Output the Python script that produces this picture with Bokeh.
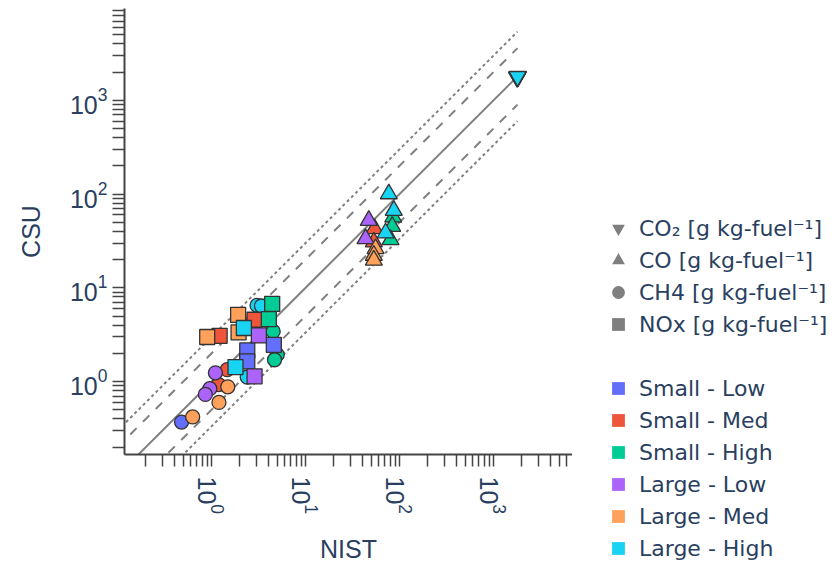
import math
from bokeh.plotting import figure
from bokeh.layouts import row, column
from bokeh.models import FixedTicker, Legend, LegendItem, ColumnDataSource, Range1d
from bokeh.embed import file_html
from bokeh.resources import INLINE

# ---------------- data ----------------
groups = ["Small - Low", "Small - Med", "Small - High", "Large - Low", "Large - Med", "Large - High"]
group_colors = ["#636EFA", "#EF553B", "#00CC96", "#AB63FA", "#FFA15A", "#19D3F3"]

pollutants = ["CO\u2082 [g kg-fuel\u207b\u00b9]", "CO [g kg-fuel\u207b\u00b9]",
              "CH4 [g kg-fuel\u207b\u00b9]", "NOx [g kg-fuel\u207b\u00b9]"]

# CO2 (inverted triangles)
co2_group = ["Small - Low", "Small - Med", "Small - High", "Large - Low", "Large - Med", "Large - High"]
co2_nist = [1790, 1810, 1800, 1780, 1820, 1800]
co2_csu = [1760, 1800, 1780, 1770, 1790, 1790]

# CO (triangles)
co_group = ["Small - Med", "Small - Med", "Small - High", "Small - High", "Small - High",
            "Large - Low", "Large - Low", "Large - Med", "Large - Med", "Large - Med",
            "Large - High", "Large - High", "Large - High"]
co_nist = [54.2, 53.3, 85.7, 83.6, 80.2, 47.1, 43.5, 55.6, 53.3, 53.3, 76.9, 86.9, 71.0]
co_csu = [42.7, 30.8, 56.8, 45.2, 32.6, 52.3, 33.4, 26.1, 22.2, 19.7, 100.5, 66.9, 38.4]

# CH4 (circles)
ch4_group = ["Small - Low", "Small - Med", "Small - Med", "Small - High", "Small - High", "Small - High",
             "Large - Low", "Large - Low", "Large - Low", "Large - Med", "Large - Med", "Large - Med",
             "Large - High", "Large - High", "Large - High"]
ch4_nist = [0.48, 1.47, 1.19, 4.53, 5.0, 4.68, 1.10, 0.96, 0.86, 1.49, 1.20, 0.63, 3.05, 3.40, 2.40]
ch4_csu = [0.37, 1.34, 0.93, 3.43, 1.94, 1.71, 1.24, 0.84, 0.73, 0.88, 0.60, 0.42, 6.5, 6.4, 1.12]

# NOx (squares)
nox_group = ["Small - Low", "Small - Low", "Small - Low", "Small - Med", "Small - Med",
             "Small - High", "Small - High", "Large - Low", "Large - Low",
             "Large - Med", "Large - Med", "Large - Med", "Large - High", "Large - High"]
nox_nist = [4.60, 2.40, 2.40, 1.22, 2.87, 4.42, 4.07, 3.19, 2.87, 0.90, 1.92, 1.94, 2.21, 1.80]
nox_csu = [2.47, 2.15, 1.64, 3.08, 4.57, 6.76, 4.64, 3.11, 1.14, 2.99, 5.16, 3.35, 3.73, 1.43]

# reference lines: CSU = ratio * NIST
ref_nist = [0.1, 1800]
ref_ratios = [1, 2, 0.5, 3, 1 / 3]

x_decades = [1, 10, 100, 1000]
y_decades = [1, 10, 100, 1000]

# ---------------- figure ----------------
TXT = "#2a3f5f"
AX = "#444444"

p = figure(width=572, height=566, x_axis_type="log", y_axis_type="log",
           x_range=(0.1187, 6920), y_range=(0.167, 9527),
           output_backend="svg", toolbar_location=None,
           min_border_left=124, min_border_right=0, min_border_top=8, min_border_bottom=111)
p.xgrid.visible = False
p.ygrid.visible = False
p.outline_line_color = None
p.background_fill_color = "white"

def minor_list(decs, lo, hi):
    out = []
    for d in [0.1] + decs:
        for k in range(2, 10):
            v = k * d
            if lo < v < hi:
                out.append(v)
    return out

p.xaxis.ticker = FixedTicker(ticks=x_decades, minor_ticks=minor_list(x_decades, 0.1187, 6920))
p.yaxis.ticker = FixedTicker(ticks=y_decades, minor_ticks=minor_list(y_decades, 0.167, 9527))

for ax in (p.xaxis[0], p.yaxis[0]):
    ax.axis_line_color = AX
    ax.axis_line_width = 2
    ax.major_tick_in = 0
    ax.major_tick_out = 12
    ax.minor_tick_in = 0
    ax.minor_tick_out = 12
    ax.major_tick_line_color = AX
    ax.minor_tick_line_color = AX
    ax.major_tick_line_width = 1.5
    ax.minor_tick_line_width = 1.5
    ax.major_label_text_color = TXT
    ax.major_label_text_font = "Liberation Sans"
    ax.major_label_text_font_size = "25px"
    ax.axis_label_text_color = TXT
    ax.axis_label_text_font = "Liberation Sans"
    ax.axis_label_text_font_size = "25px"
    ax.axis_label_text_font_style = "normal"

p.xaxis.axis_label = "NIST"
p.yaxis.axis_label = "CSU"
p.xaxis.major_label_orientation = -math.pi / 2
p.xaxis.major_label_standoff = 10
p.yaxis.major_label_standoff = 5
p.xaxis.axis_label_standoff = 18
p.yaxis.axis_label_standoff = 22

# reference lines
ref_styles = ["solid", "9 9", "9 9", "3 3", "3 3"]
for r, dash in zip(ref_ratios, ref_styles):
    p.line(x=ref_nist, y=[r * v for v in ref_nist], line_color="#808080", line_width=2, line_dash=dash)

color_of = dict(zip(groups, group_colors))

series = [
    (co2_nist, co2_csu, co2_group, "inverted_triangle", 17),
    (co_nist, co_csu, co_group, "triangle", 17),
    (ch4_nist, ch4_csu, ch4_group, "circle", 14),
    (nox_nist, nox_csu, nox_group, "square", 15),
]
for xs, ys, gs, mk, sz in series:
    src = ColumnDataSource(dict(x=xs, y=ys, c=[color_of[g] for g in gs]))
    p.scatter("x", "y", source=src, marker=mk, size=sz, fill_color="c",
              line_color="#333333", line_width=1.3)

# ---------------- legend panel ----------------
lf = figure(width=262, height=566, x_range=Range1d(0, 1), y_range=Range1d(0, 1),
            output_backend="svg", toolbar_location=None,
            x_axis_location=None, y_axis_location=None,
            min_border=0, min_border_left=0, min_border_right=0,
            min_border_top=0, min_border_bottom=0)
lf.xgrid.visible = False
lf.ygrid.visible = False
lf.outline_line_color = None

nan = float("nan")
shape_markers = ["inverted_triangle", "triangle", "circle", "square"]
items = []
for lab, mk in zip(pollutants, shape_markers):
    r = lf.scatter(x=[nan], y=[nan], marker=mk, size=14, fill_color="#7f7f7f", line_color=None)
    items.append(LegendItem(label=lab, renderers=[r]))
gap = lf.scatter(x=[nan], y=[nan], marker="square", size=14, fill_alpha=0, line_alpha=0)
items.append(LegendItem(label=" ", renderers=[gap]))
for lab, col in zip(groups, group_colors):
    r = lf.scatter(x=[nan], y=[nan], marker="square", size=14, fill_color=col, line_color=None)
    items.append(LegendItem(label=lab, renderers=[r]))

legend = Legend(items=items, location=(29, 2), glyph_width=34, glyph_height=32, label_height=32,
                spacing=0, label_standoff=4, padding=0, margin=0,
                border_line_alpha=0, background_fill_alpha=0,
                label_text_font="DejaVu Sans", label_text_font_size="22px",
                label_text_color=TXT)
lf.add_layout(legend)

layout = row(p, column(lf))
open("out.html", "w").write(file_html(layout, INLINE))
